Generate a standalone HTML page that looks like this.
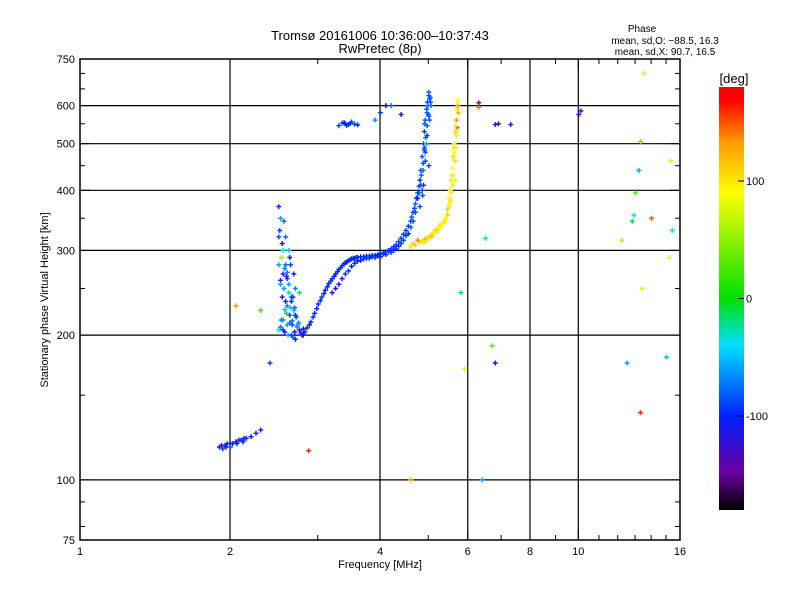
<!DOCTYPE html>
<html><head><meta charset="utf-8"><style>
body{margin:0;background:#fff;font-family:"Liberation Sans",sans-serif}
svg text{font-family:"Liberation Sans",sans-serif;fill:#000}
</style></head><body>
<svg id="chart" width="800" height="600" xmlns="http://www.w3.org/2000/svg">
<rect width="800" height="600" fill="#fff"/>
<text x="380" y="40" font-size="13" text-anchor="middle">Tromsø 20161006 10:36:00–10:37:43</text>
<text x="380" y="53" font-size="13" text-anchor="middle">RwPretec (8p)</text>
<text x="642" y="32" font-size="10" text-anchor="middle">Phase</text>
<text x="665" y="44" font-size="10" text-anchor="middle">mean, sd,O: −88.5, 16.3</text>
<text x="665" y="55" font-size="10" text-anchor="middle">mean, sd,X:  90.7, 16.5</text>
<g id="grid"></g>
<g id="points"></g>
<rect x="80" y="59" width="600" height="481" fill="none" stroke="#000" stroke-width="1.5"/>
<g id="ticks"></g>
<text x="380" y="568" font-size="11" text-anchor="middle">Frequency [MHz]</text>
<text transform="translate(48,300) rotate(-90)" font-size="11" text-anchor="middle">Stationary phase Virtual Height [km]</text>
<defs><linearGradient id="cb" x1="0" y1="1" x2="0" y2="0">
<stop offset="0" stop-color="#000"/><stop offset="0.09" stop-color="#6a00a0"/><stop offset="0.22" stop-color="#0020ff"/><stop offset="0.39" stop-color="#00e0ff"/><stop offset="0.5" stop-color="#00e000"/><stop offset="0.75" stop-color="#ffff00"/><stop offset="0.87" stop-color="#ff9900"/><stop offset="0.97" stop-color="#ff0000"/><stop offset="1" stop-color="#ff0000"/>
</linearGradient></defs>
<rect x="719" y="87" width="25" height="423" fill="url(#cb)"/>
<text x="734" y="83" font-size="13" text-anchor="middle">[deg]</text>
<g id="cbticks"></g>
</svg>
<script>
const xTicks=[1,2,4,6,8,10,16];
const xGrid=[2,4,6,8,10];
const yTicks=[75,100,200,300,400,500,600,750];
const yGrid=[100,200,300,400,500,600];
const cbTicks=[100,0,-100];
const freqs=[1.9,1.92,1.95,1.97,2.0,2.02,2.05,2.08,2.1,2.13,2.15,2.2,2.25,2.3,1.93,2.0,1.96,2.06,2.12,
2.5,2.52,2.5,2.55,2.53,2.58,2.6,2.52,2.56,2.62,2.65,2.58,2.6,2.68,2.7,2.55,2.63,2.66,2.72,2.5,2.57,2.61,2.67,2.7,2.53,2.59,2.64,2.75,2.78,2.52,2.6,2.68,2.73,2.56,2.62,2.58,2.64,2.7,
2.51,2.54,2.57,2.59,2.62,2.65,2.69,2.71,2.74,2.54,2.57,2.63,2.66,2.52,2.55,2.6,2.65,2.69,2.55,2.5,2.63,2.67,2.77,2.8,
2.8,2.85,2.9,2.95,3.0,3.05,3.1,3.15,3.2,3.25,3.3,3.35,3.4,3.45,3.5,3.55,3.6,3.7,3.8,3.9,4.0,4.1,4.2,4.3,4.4,4.5,4.6,4.65,4.7,4.75,4.8,4.82,4.85,4.88,4.9,4.92,4.95,4.97,5.0,5.0,5.02,4.98,4.9,4.95,5.0,4.85,4.8,
2.82,2.88,2.93,2.98,3.03,3.08,3.13,3.18,3.23,3.28,3.33,3.38,3.43,3.48,3.53,3.58,3.65,3.75,3.85,3.95,4.05,4.15,4.25,4.35,4.45,4.55,4.62,4.68,4.72,4.78,4.83,4.87,4.9,4.93,4.96,4.99,5.03,4.96,4.92,4.88,4.86,
3.2,3.3,3.4,3.5,3.6,3.7,3.8,3.9,4.0,4.1,4.2,4.3,4.4,4.5,3.25,3.45,3.65,3.85,4.05,4.25,4.45,4.6,4.7,4.75,4.82,4.87,4.92,4.96,5.02,5.05,
3.35,3.55,3.75,3.95,4.15,4.35,4.55,4.65,4.78,4.9,5.0,5.04,
4.6,4.7,4.8,4.9,5.0,5.1,5.2,5.3,5.4,5.45,5.5,5.52,5.55,5.58,5.6,5.62,5.65,5.68,5.7,5.72,5.7,5.65,4.75,4.95,5.15,5.35,5.5,5.57,5.63,5.68,5.25,5.05,
4.65,4.85,5.0,5.1,5.2,5.3,5.38,5.45,5.5,5.55,5.6,5.64,5.67,5.7,5.73,4.9,5.05,5.25,5.42,5.53,5.6,5.66,5.72,5.58,
3.3,3.35,3.4,3.45,3.5,3.55,3.6,3.9,4.0,4.1,4.2,4.4,3.38,3.48,3.42,
2.05,2.3,2.4,2.75,2.87,4.6,6.3,6.4,6.5,6.7,6.8,6.8,6.9,7.3,10.0,10.1,6.3,5.8,5.9,12.2,12.8,13.0,13.2,13.3,13.5,14.0,15.0,15.2,15.3,15.4,12.5,13.3,12.9,13.4];
const heights=[117,118,118,119,119,119,120,121,121,122,122,123,125,127,116,117,117,119,120,
370,350,320,300,290,280,270,260,250,245,240,235,230,225,220,215,212,210,208,205,203,200,198,196,215,222,228,205,200,255,262,268,210,345,300,320,280,250,
330,310,275,265,255,235,228,218,212,240,226,220,214,208,205,210,200,203,268,280,290,240,202,206,
200,207,213,222,232,240,248,256,262,268,274,279,283,286,288,289,290,291,292,293,295,298,302,308,318,330,345,360,375,395,420,440,470,500,530,560,590,610,630,640,620,600,550,500,450,400,370,
203,210,218,227,236,244,252,259,265,271,276,281,284,287,289,290,291,292,293,294,296,300,305,313,324,337,352,367,385,408,430,455,485,515,545,575,625,580,460,410,390,
245,255,268,278,285,288,289,290,291,294,297,302,310,322,250,272,286,291,295,300,315,335,360,385,410,440,480,520,560,600,
262,282,289,292,298,306,325,345,395,490,570,610,
305,308,312,316,320,326,332,340,350,365,385,400,420,445,470,500,530,560,590,615,540,420,315,318,330,342,370,430,480,520,338,322,
310,314,318,322,328,336,345,356,375,395,430,460,490,530,580,312,320,333,350,380,490,545,600,410,
545,552,550,548,555,549,547,560,580,600,600,575,553,551,546,
230,225,175,245,115,100,595,100,318,190,175,548,550,548,575,585,608,245,170,315,345,395,440,505,700,350,180,290,460,330,175,138,355,250];
const phases=[-120,-110,-100,-100,-110,-100,-115,-110,-100,-110,-100,-105,-110,-100,-90,-80,-130,-100,-110,
-100,-60,-90,-40,60,-80,-70,-100,-60,-20,-90,-110,-70,-50,-100,-60,-80,-90,-70,-40,-100,-60,-80,-100,-70,10,-50,-120,-100,-60,-90,-110,-60,-80,-50,-80,-90,-70,
-90,-100,-70,-120,-60,-100,-80,-90,-70,-110,-50,-90,-80,-70,-100,-60,-90,-110,-130,-60,-100,-90,-120,-100,
-120,-110,-105,-100,-100,-95,-100,-100,-95,-100,-100,-95,-100,-95,-100,-100,-95,-100,-100,-95,-100,-90,-95,-100,-95,-90,-95,-90,-80,-90,-95,-90,-80,-90,-90,-85,-80,-90,-85,-80,-85,-70,-80,-60,-90,-85,-85,
-110,-105,-100,-100,-95,-100,-100,-95,-100,-100,-95,-100,-100,-95,-100,-95,-100,-95,-100,-100,-95,-100,-100,-90,-95,-90,-85,-90,-95,-90,-80,-85,-90,-80,-85,-90,-85,-80,-90,-95,-85,
-110,-100,-95,-100,-100,-90,-100,-95,-100,-100,-90,-100,-95,-90,-120,-95,-100,-90,-95,-100,-90,-80,-90,-100,-90,-80,-85,-90,-80,-75,
-120,-100,-95,-100,-90,-95,-100,-90,-85,-90,-80,-85,
100,110,105,120,100,95,100,90,100,110,95,100,100,90,105,100,110,130,100,90,150,80,140,120,110,95,100,100,90,80,100,115,
110,100,95,105,100,90,100,110,95,100,90,105,100,95,120,100,110,95,90,100,100,95,130,80,
-90,-80,-95,-100,-85,-90,-100,-70,-90,-160,-80,-120,-110,-95,-100,
130,20,-90,-20,160,130,140,-60,-40,30,-100,-100,-120,-100,-130,-130,-150,-20,100,60,-10,30,-60,40,100,150,-20,80,100,-40,-60,160,-40,100];

const X0=80,X1=680,Y0=540,Y1=59;
const xs=f=>X0+(X1-X0)*Math.log(f)/Math.log(16);
const ys=h=>Y0-(Y0-Y1)*Math.log10(h/75);
const NS='http://www.w3.org/2000/svg';
function mk(tag,a,parent){const e=document.createElementNS(NS,tag);for(const k in a)e.setAttribute(k,a[k]);parent.appendChild(e);return e;}
const grid=document.getElementById('grid'),ticks=document.getElementById('ticks'),pts=document.getElementById('points'),cbt=document.getElementById('cbticks');
xGrid.forEach(f=>{const l=mk('line',{x1:xs(f),x2:xs(f),y1:Y1,y2:Y0,stroke:'#000','stroke-width':1.2},grid);

});
yGrid.forEach(h=>{const l=mk('line',{x1:X0,x2:X1,y1:ys(h),y2:ys(h),stroke:'#000','stroke-width':1.2},grid);

});
const xMinor=[];for(let d=1;d<10;d++)xMinor.push(d);for(let d=10;d<=16;d++)xMinor.push(d);
xMinor.forEach(f=>{const x=xs(f);const L=(xTicks.includes(f))?10:5;
mk('line',{x1:x,x2:x,y1:Y0,y2:Y0-L,stroke:'#000'},ticks);mk('line',{x1:x,x2:x,y1:Y1,y2:Y1+L,stroke:'#000'},ticks);});
xTicks.forEach(f=>{const t=mk('text',{x:xs(f),y:555,'font-size':11,'text-anchor':'middle'},ticks);t.textContent=f;

});
const yMinor=[75,80,90,100,150,200,250,300,350,400,450,500,550,600,650,700,750];
yMinor.forEach(h=>{const y=ys(h);const L=yTicks.includes(h)?10:5;
mk('line',{x1:X0,x2:X0+L,y1:y,y2:y,stroke:'#000'},ticks);mk('line',{x1:X1,x2:X1-L,y1:y,y2:y,stroke:'#000'},ticks);});
yTicks.forEach(h=>{const t=mk('text',{x:75,y:ys(h)+4,'font-size':11,'text-anchor':'end'},ticks);t.textContent=h;

});
const cbY=p=>510-(p+180)/360*423;
cbTicks.forEach(p=>{const y=cbY(p);mk('line',{x1:738,x2:744,y1:y,y2:y,stroke:'#000'},cbt);
const t=mk('text',{x:746,y:y+4,'font-size':11},cbt);t.textContent=p;

});
const stops=[[-180,[0,0,0]],[-148,[106,0,160]],[-101,[0,32,255]],[-40,[0,224,255]],[0,[0,224,0]],[90,[255,255,0]],[133,[255,153,0]],[170,[255,0,0]],[180,[255,0,0]]];
function col(p){for(let i=1;i<stops.length;i++){if(p<=stops[i][0]){const a=stops[i-1],b=stops[i];const t=(p-a[0])/(b[0]-a[0]);
return 'rgb('+a[1].map((v,k)=>Math.round(v+(b[1][k]-v)*t)).join(',')+')';}}return 'rgb(255,0,0)';}
freqs.forEach((f,i)=>{const x=xs(f),y=ys(heights[i]),c=col(phases[i]);
const g=mk('path',{d:`M${x-2},${y}h5M${x+0.5},${y-2.5}v5`,stroke:c,'stroke-width':1.4,fill:'none'},pts);

});
</script>
</body></html>
